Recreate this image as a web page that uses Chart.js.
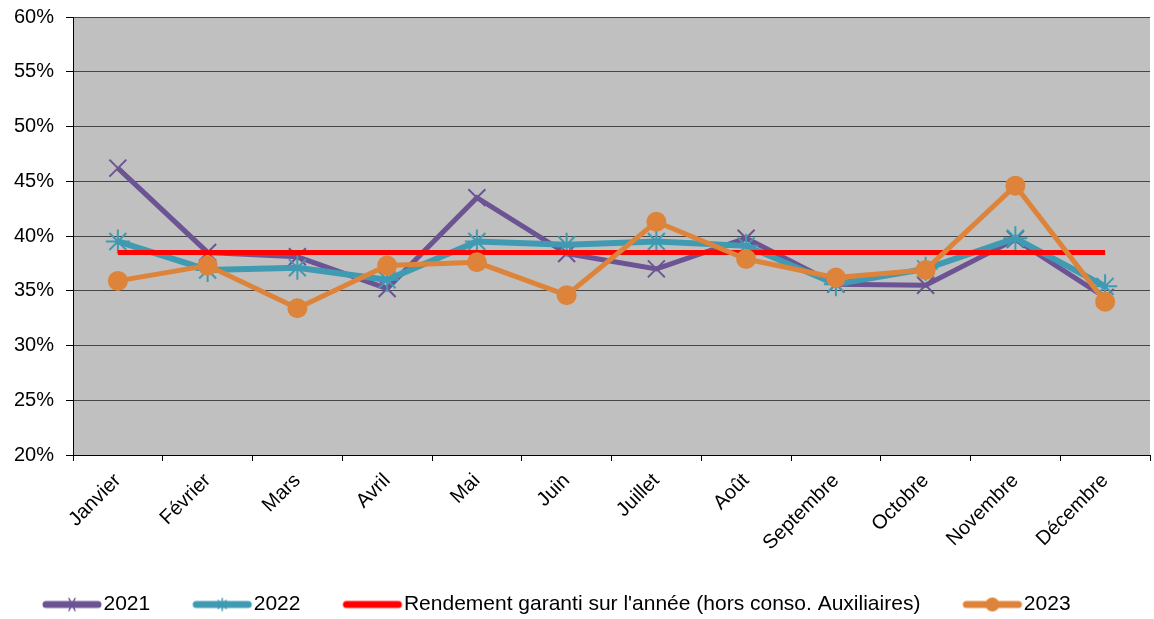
<!DOCTYPE html>
<html>
<head>
<meta charset="utf-8">
<script src="https://cdn.jsdelivr.net/npm/chart.js@4"></script>
<style>
  html, body { margin: 0; padding: 0; background: #fff; overflow: hidden; }
  #wrap { width: 1154px; height: 619px; overflow: hidden; }
</style>
</head>
<body>
<!-- canevas un peu plus large : la marge droite réservée par l'axe X tombe hors cadre -->
<div id="wrap"><canvas id="rendChart" width="1164" height="619"></canvas></div>
<script>
const mois = ['Janvier', 'Février', 'Mars', 'Avril', 'Mai', 'Juin', 'Juillet', 'Août', 'Septembre', 'Octobre', 'Novembre', 'Décembre'];
const val2021 = [46.2, 38.5, 38.1, 35.2, 43.5, 38.4, 37.0, 39.8, 35.6, 35.5, 39.7, 34.4];
const val2022 = [39.5, 36.9, 37.1, 36.0, 39.5, 39.2, 39.5, 39.1, 35.6, 37.0, 39.8, 35.4];
const valGaranti = [38.5, 38.5, 38.5, 38.5, 38.5, 38.5, 38.5, 38.5, 38.5, 38.5, 38.5, 38.5];
const val2023 = [35.9, 37.3, 33.4, 37.3, 37.6, 34.6, 41.3, 37.9, 36.2, 36.9, 44.6, 34.0];
const yTicks = [20, 25, 30, 35, 40, 45, 50, 55, 60];

const violet = '#6c5494';
const bleu = '#3f9ab2';
const rouge = '#ff0000';
const orange = '#dd843a';
const police = "'Liberation Sans', Arial, sans-serif";

// petite image ligne + marqueur pour la légende (décalée pour coller au texte)
function iconeLegende(couleur, marqueur, epaisseur) {
    const c = document.createElement('canvas');
    c.width = 70; c.height = 22;
    const ctx = c.getContext('2d');
    ctx.strokeStyle = couleur;
    ctx.fillStyle = couleur;
    ctx.lineWidth = epaisseur;
    ctx.lineCap = 'round';
    ctx.beginPath(); ctx.moveTo(13, 11); ctx.lineTo(65, 11); ctx.stroke();
    ctx.lineWidth = 1.5;
    if (marqueur === 'x') {
        ctx.beginPath();
        ctx.moveTo(36, 5); ctx.lineTo(42, 17);
        ctx.moveTo(42, 5); ctx.lineTo(36, 17);
        ctx.stroke();
    } else if (marqueur === 'star') {
        ctx.beginPath();
        ctx.moveTo(39, 5); ctx.lineTo(39, 17);
        ctx.moveTo(35, 7); ctx.lineTo(43, 15);
        ctx.moveTo(43, 7); ctx.lineTo(35, 15);
        ctx.stroke();
    } else if (marqueur === 'rond') {
        ctx.beginPath(); ctx.arc(39, 11, 7, 0, Math.PI * 2); ctx.fill();
    }
    return c;
}

const icones = [
    iconeLegende(violet, 'x', 7),
    iconeLegende(bleu, 'star', 7),
    iconeLegende(rouge, null, 7),
    iconeLegende(orange, 'rond', 7)
];

const fondGris = {
    id: 'fondGris',
    beforeDraw(chart) {
        const a = chart.chartArea;
        const ctx = chart.ctx;
        ctx.save();
        ctx.fillStyle = '#c0c0c0';
        ctx.fillRect(a.left, a.top, a.right - a.left, a.bottom - a.top);
        ctx.restore();
    }
};

new Chart(document.getElementById('rendChart'), {
    type: 'line',
    data: {
        labels: mois,
        datasets: [
            {
                label: '2021', data: val2021, order: 3,
                borderColor: violet, backgroundColor: violet, borderWidth: 5,
                pointStyle: 'crossRot', pointRadius: 12, pointBorderWidth: 2,
                pointBorderColor: violet, tension: 0
            },
            {
                label: '2022', data: val2022, order: 2,
                borderColor: bleu, backgroundColor: bleu, borderWidth: 6,
                pointStyle: 'star', pointRadius: 12, pointBorderWidth: 2,
                pointBorderColor: bleu, tension: 0
            },
            {
                label: "Rendement garanti sur l'année (hors conso. Auxiliaires)", data: valGaranti, order: 1,
                borderColor: rouge, backgroundColor: rouge, borderWidth: 5,
                pointRadius: 0, tension: 0
            },
            {
                label: '2023', data: val2023, order: 0,
                borderColor: orange, backgroundColor: orange, borderWidth: 5,
                pointStyle: 'circle', pointRadius: 10, pointBorderWidth: 0,
                tension: 0
            }
        ]
    },
    options: {
        responsive: false,
        animation: false,
        layout: { padding: { top: 17, right: 0, left: 0, bottom: -6 } },
        plugins: {
            tooltip: { enabled: false },
            legend: {
                position: 'bottom',
                align: 'start',
                labels: {
                    usePointStyle: true,
                    pointStyleWidth: 50,
                    padding: 43,
                    color: '#000',
                    font: { family: police, size: 21 },
                    sort: (a, b) => a.datasetIndex - b.datasetIndex,
                    generateLabels: (chart) => chart.data.datasets.map((ds, i) => ({
                        text: ds.label,
                        pointStyle: icones[i],
                        fillStyle: ds.borderColor,
                        strokeStyle: ds.borderColor,
                        lineWidth: 0,
                        hidden: false,
                        datasetIndex: i
                    }))
                }
            }
        },
        scales: {
            x: {
                offset: true,
                grid: { display: true, drawOnChartArea: false, offset: true, tickLength: 6, tickColor: '#000' },
                border: { color: '#000', width: 1 },
                ticks: {
                    autoSkip: false, maxRotation: 45, minRotation: 45,
                    color: '#000', padding: 8,
                    font: { family: police, size: 20 }
                },
                afterFit: (scale) => {
                    scale.height = 96;
                    scale.paddingLeft = 0;
                    scale.paddingRight = 0;
                }
            },
            y: {
                min: 20, max: 60,
                afterBuildTicks: (scale) => { scale.ticks = yTicks.map(v => ({ value: v })); },
                grid: { color: '#454545', lineWidth: 1, tickLength: 7, tickColor: '#000' },
                border: { color: '#000', width: 1 },
                ticks: {
                    color: '#000', padding: 12,
                    font: { family: police, size: 20 },
                    callback: (v) => v + '%'
                },
                afterFit: (scale) => {
                    scale.width = 73;
                    scale.paddingTop = 0;
                    scale.paddingBottom = 0;
                }
            }
        }
    },
    plugins: [fondGris]
});
</script>
</body>
</html>
